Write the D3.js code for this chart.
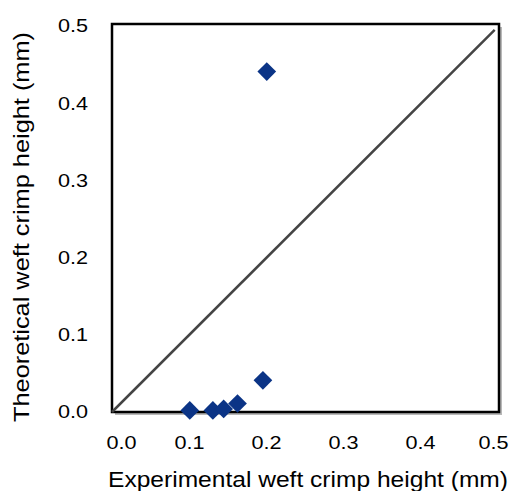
<!DOCTYPE html>
<html>
<head>
<meta charset="utf-8">
<script src="https://cdn.jsdelivr.net/npm/d3@7"></script>
<style>
  body { margin: 0; background: #fff; }
  text { font-family: "Liberation Sans", Arial, sans-serif; fill: #000; }
</style>
</head>
<body>
<div id="chart"></div>
<script>
// data
const experimental = [0.201, 0.196, 0.101, 0.131, 0.145, 0.163];
const theoretical  = [0.441, 0.041, 0.002, 0.002, 0.004, 0.011];
const xTicks = [0.0, 0.1, 0.2, 0.3, 0.4, 0.5];
const yTicks = [0.0, 0.1, 0.2, 0.3, 0.4, 0.5];

const W = 511, H = 491;
const margin = { top: 24, right: 12, bottom: 79, left: 112 };
const stretch = 1.17;

const svg = d3.select("#chart").append("svg")
    .attr("width", W)
    .attr("height", H);

const xScale = d3.scaleLinear().domain([0, 0.5]).range([margin.left, 497]);
const yScale = d3.scaleLinear().domain([0, 0.5]).range([H - margin.bottom, 26]);

// plot frame with a little shadow on the bottom/right
const fx0 = margin.left, fy0 = margin.top, fx1 = W - margin.right, fy1 = H - margin.bottom;
svg.append("path")
    .attr("d", `M${fx0 + 3},${fy1 + 2}H${fx1 + 2}V${fy0 + 3}`)
    .style("fill", "none")
    .style("stroke", "#b8b8b8")
    .style("stroke-width", 2);
svg.append("rect")
    .attr("x", fx0)
    .attr("y", fy0)
    .attr("width", fx1 - fx0)
    .attr("height", fy1 - fy0)
    .style("fill", "none")
    .style("stroke", "#000")
    .style("stroke-width", 2.5);

// 1:1 line
svg.append("line")
    .attr("x1", xScale(0)).attr("y1", yScale(0))
    .attr("x2", xScale(0.497)).attr("y2", yScale(0.495))
    .style("stroke", "#444")
    .style("stroke-width", 2.5);

// axes
const fmt = d3.format(".1f");
const xAxis = svg.append("g")
    .attr("transform", `translate(0,${fy1})`)
    .call(d3.axisBottom(xScale).tickValues(xTicks).tickFormat(fmt).tickSize(0).tickPadding(24));
xAxis.select(".domain").remove();
xAxis.selectAll("text")
    .style("font-size", "18.5px")
    .style("font-family", "'Liberation Sans', Arial, sans-serif")
    .attr("fill", "#000")
    .attr("dx", (d, i) => i === 0 ? 9 / stretch : (i === xTicks.length - 1 ? -4 / stretch : 0))
    .attr("transform", `scale(${stretch},1)`);

const yAxis = svg.append("g")
    .attr("transform", `translate(${margin.left},0)`)
    .call(d3.axisLeft(yScale).tickValues(yTicks).tickFormat(fmt).tickSize(0).tickPadding(24 / stretch));
yAxis.select(".domain").remove();
yAxis.selectAll("text")
    .style("font-size", "18.5px")
    .style("font-family", "'Liberation Sans', Arial, sans-serif")
    .attr("fill", "#000")
    .attr("transform", `scale(${stretch},1)`);

// points
const diamond = d3.symbol().type(d3.symbolSquare).size(175);
svg.selectAll(".pt")
    .data(experimental.map((d, i) => ({ x: d, y: theoretical[i] })))
    .enter()
    .append("path")
    .attr("class", "pt")
    .attr("d", diamond)
    .attr("transform", d => `translate(${xScale(d.x)},${yScale(d.y)}) rotate(45)`)
    .style("fill", "#0b3486");

// axis titles
svg.append("text")
    .attr("x", 108)
    .attr("y", 487)
    .attr("textLength", 400)
    .attr("lengthAdjust", "spacingAndGlyphs")
    .style("font-size", "22px")
    .text("Experimental weft crimp height (mm)");

svg.append("text")
    .attr("transform", "rotate(-90)")
    .attr("x", -422)
    .attr("y", 29)
    .attr("textLength", 390)
    .attr("lengthAdjust", "spacingAndGlyphs")
    .style("font-size", "22px")
    .text("Theoretical weft crimp height (mm)");
</script>
</body>
</html>
